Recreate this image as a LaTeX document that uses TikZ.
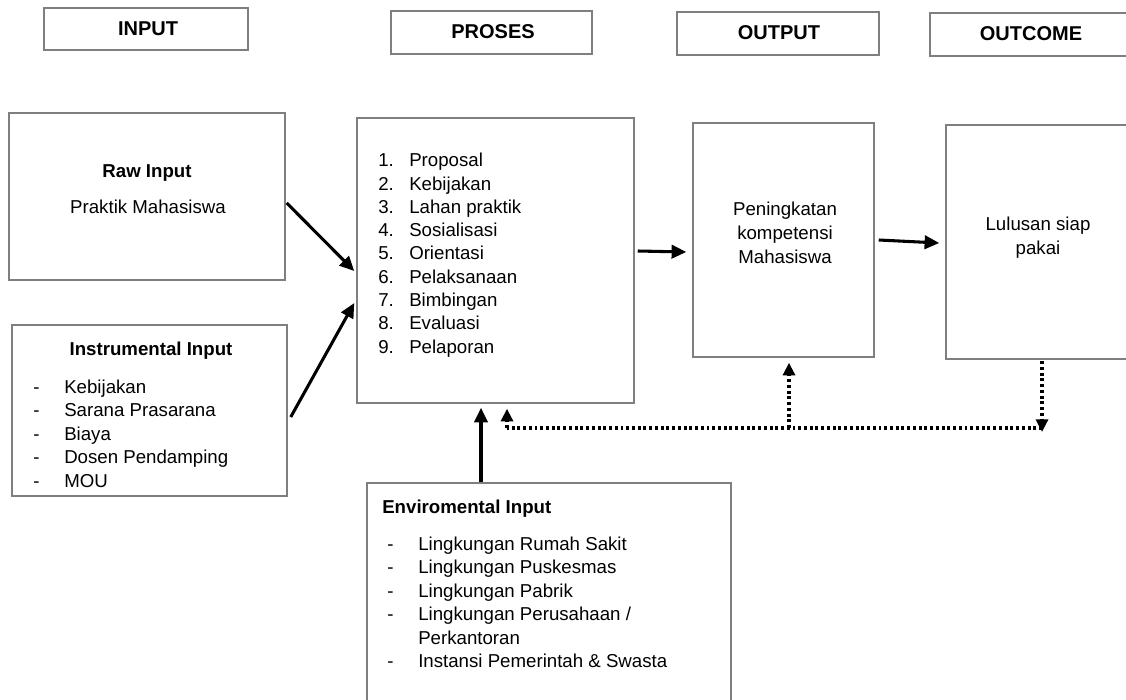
\documentclass[tikz,border=0pt]{standalone}
\usepackage{fontspec}
\setmainfont{Liberation Sans}
\usepackage{xcolor}
\usepackage{tikz}
\usetikzlibrary{arrows.meta}
\definecolor{boxgray}{HTML}{7F7F7F}
\tikzstyle{mybox} = [draw=boxgray, line width=1.1pt, inner sep=0pt]
\tikzstyle{headtxt} = [anchor=base, inner sep=0pt, font=\fontsize{15}{18}\selectfont\bfseries]
\tikzstyle{boldtxt} = [inner sep=0pt, font=\fontsize{14}{17}\selectfont\bfseries]
\tikzstyle{bodytxt} = [inner sep=0pt, font=\fontsize{14}{17}\selectfont]
\tikzstyle{myarrow} = [line width=2.3pt, -{Triangle[length=11pt,width=10pt]}]
\tikzstyle{fbline} = [line width=2.4pt, dash pattern=on 2.2pt off 2.1pt]
\tikzstyle{fbarrow} = [fbline, -{Triangle[length=9.5pt,width=9pt]}]
\newcommand{\numitem}[2]{\makebox[23.25pt][l]{#1.}#2}
\newcommand{\listdash}[1]{\makebox[23.25pt][l]{-}#1}

\begin{document}
\begin{tikzpicture}[x=0.75pt, y=-0.75pt]
        \useasboundingbox (0,0) rectangle (1126,699);

        % Header boxes
        \node[mybox, minimum width=153pt, minimum height=31.5pt] (h_in) at (146,29) {};
        \node[headtxt] (t_in) at (148,36) {INPUT};
        \node[mybox, minimum width=150.75pt, minimum height=32.25pt] (h_pro) at (491.5,32.5) {};
        \node[headtxt] (t_pro) at (493,38.5) {PROSES};
        \node[mybox, minimum width=151.5pt, minimum height=32.25pt] (h_out) at (778,33.5) {};
        \node[headtxt] (t_out) at (779,39.5) {OUTPUT};
        \node[mybox, minimum width=151.5pt, minimum height=32.25pt] (h_oc) at (1031,34.5) {};
        \node[headtxt] (t_oc) at (1031,40.5) {OUTCOME};

        % Main boxes
        \node[mybox, minimum width=207pt, minimum height=125.25pt] (raw) at (147,196.5) {};
        \node[mybox, minimum width=206.25pt, minimum height=128.25pt] (instr) at (149.5,410.5) {};
        \node[mybox, minimum width=207.75pt, minimum height=213.75pt] (proses) at (495.5,260.5) {};
        \node[mybox, minimum width=135.75pt, minimum height=175.5pt] (output) at (783.5,240) {};
        \node[mybox, minimum width=139.5pt, minimum height=175.5pt] (outcome) at (1039,242) {};
        \node[mybox, minimum width=273pt, minimum height=177.75pt] (enviro) at (549,601.5) {};

        % Raw input
        \node[boldtxt, anchor=base] (raw_t) at (147,177) {Raw Input};
        \node[bodytxt, anchor=base] (raw_1) at (148,213) {Praktik Mahasiswa};

        % Instrumental input
        \node[boldtxt, anchor=base] (ins_t) at (151,355) {Instrumental Input};
        \node[bodytxt, anchor=base west] (ins_1) at (33,393) {\listdash{Kebijakan}};
        \node[bodytxt, anchor=base west] (ins_2) at (33,416.5) {\listdash{Sarana Prasarana}};
        \node[bodytxt, anchor=base west] (ins_3) at (33,440) {\listdash{Biaya}};
        \node[bodytxt, anchor=base west] (ins_4) at (33,463.5) {\listdash{Dosen Pendamping}};
        \node[bodytxt, anchor=base west] (ins_5) at (33,487) {\listdash{MOU}};

        % Proses steps
        \node[bodytxt, anchor=base west] (pro_1) at (378,166.7) {\numitem{1}{Proposal}};
        \node[bodytxt, anchor=base west] (pro_2) at (378,190) {\numitem{2}{Kebijakan}};
        \node[bodytxt, anchor=base west] (pro_3) at (378,213.3) {\numitem{3}{Lahan praktik}};
        \node[bodytxt, anchor=base west] (pro_4) at (378,236.6) {\numitem{4}{Sosialisasi}};
        \node[bodytxt, anchor=base west] (pro_5) at (378,259.9) {\numitem{5}{Orientasi}};
        \node[bodytxt, anchor=base west] (pro_6) at (378,283.2) {\numitem{6}{Pelaksanaan}};
        \node[bodytxt, anchor=base west] (pro_7) at (378,306.5) {\numitem{7}{Bimbingan}};
        \node[bodytxt, anchor=base west] (pro_8) at (378,329.8) {\numitem{8}{Evaluasi}};
        \node[bodytxt, anchor=base west] (pro_9) at (378,353.1) {\numitem{9}{Pelaporan}};

        % Output and outcome
        \node[bodytxt, anchor=base] (out_1) at (785,215) {Peningkatan};
        \node[bodytxt, anchor=base] (out_2) at (785,239) {kompetensi};
        \node[bodytxt, anchor=base] (out_3) at (785,263) {Mahasiswa};
        \node[bodytxt, anchor=base] (oc_1) at (1038,230) {Lulusan siap};
        \node[bodytxt, anchor=base] (oc_2) at (1038,254) {pakai};

        % Enviromental input
        \node[boldtxt, anchor=base west] (env_t) at (382,513) {Enviromental Input};
        \node[bodytxt, anchor=base west] (env_1) at (387,550) {\listdash{Lingkungan Rumah Sakit}};
        \node[bodytxt, anchor=base west] (env_2) at (387,573.5) {\listdash{Lingkungan Puskesmas}};
        \node[bodytxt, anchor=base west] (env_3) at (387,597) {\listdash{Lingkungan Pabrik}};
        \node[bodytxt, anchor=base west] (env_4) at (387,620.5) {\listdash{Lingkungan Perusahaan /}};
        \node[bodytxt, anchor=base west] (env_4b) at (418,644) {Perkantoran};
        \node[bodytxt, anchor=base west] (env_5) at (387,667.5) {\listdash{Instansi Pemerintah \& Swasta}};

        % Arrows
        \draw[myarrow] ([shift={(1,6.5)}]raw.east) -- ([shift={(-2,10.5)}]proses.west);
        \draw[myarrow] ([shift={(3,6.5)}]instr.east) -- ([shift={(-2,42.5)}]proses.west);
        \draw[myarrow] ([shift={(3,-9.5)}]proses.east) -- ([shift={(-6,12)}]output.west);
        \draw[myarrow] ([shift={(4,0)}]output.east) -- ([shift={(-6,1)}]outcome.west);
        \draw[myarrow] ([shift={(-68,0)}]enviro.north) -- ([shift={(-14.5,4)}]proses.south);

        % Feedback
        \coordinate (fb_right) at (1042,428);
        \coordinate (fb_mid) at (789,428);
        \coordinate (fb_left) at (507,428);
        \draw[fbarrow] ([shift={(3,1.5)}]outcome.south) -- ([shift={(0,4)}]fb_right);
        \draw[fbline] (fb_right) -- (fb_left);
        \draw[fbarrow] (fb_left) -- ([shift={(11.5,5)}]proses.south);
        \draw[fbarrow] (fb_mid) -- ([shift={(5.5,5)}]output.south);
     \end{tikzpicture}
\end{document}
